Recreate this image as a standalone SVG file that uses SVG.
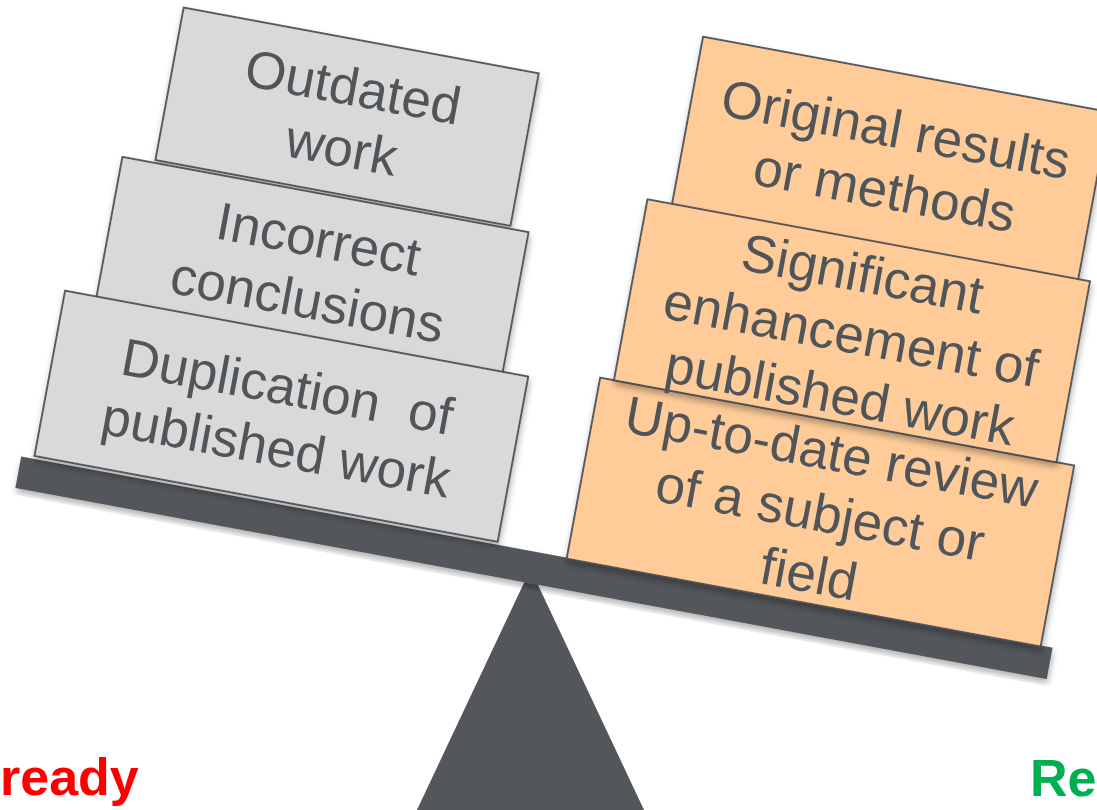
<svg xmlns="http://www.w3.org/2000/svg" width="1097" height="810" viewBox="0 0 1097 810">
<defs>
<filter id="sh" x="-10%" y="-10%" width="120%" height="130%">
<feDropShadow dx="1.5" dy="4" stdDeviation="3" flood-color="#000" flood-opacity="0.3"/>
</filter>
<style>
.grey{fill:#D9D9D9;stroke:#474C51;stroke-width:1.8;filter:url(#sh)}
.orange{fill:#FFCC99;stroke:#474C51;stroke-width:1.8;filter:url(#sh)}
.lbl{font-family:"Liberation Sans",Arial,sans-serif;font-size:53px;fill:#50555A;text-anchor:middle;white-space:pre}
.dark{fill:#53565A}
.big{font-family:"Liberation Sans",Arial,sans-serif;font-size:52px;font-weight:bold}
</style>
</defs>
<rect width="1097" height="810" fill="#FFFFFF"/>
<g id="fulcrum">
<polygon class="dark" points="530.5,569 416,812 645,812"/>
</g>
<g transform="rotate(10.5)">
<g id="beam">
<rect class="dark" x="104" y="445" width="1049" height="32" filter="url(#sh)"/>
</g>
<g id="box-outdated">
<rect class="grey" x="182" y="-26" width="361" height="155"/>
<text class="lbl"><tspan x="363" y="39.5">Outdated</tspan><tspan x="363" y="101.5">work</tspan></text>
</g>
<g id="box-incorrect">
<rect class="grey" x="149" y="132" width="413" height="150"/>
<text class="lbl"><tspan x="357" y="195">Incorrect</tspan><tspan x="357" y="257">conclusions</tspan></text>
</g>
<g id="box-duplication">
<rect class="grey" x="117" y="274" width="471" height="168"/>
<text class="lbl"><tspan x="353" y="346">Duplication  of</tspan><tspan x="353" y="408">published work</tspan></text>
</g>
<g id="box-original">
<rect class="orange" x="698" y="-92" width="413" height="172"/>
<text class="lbl"><tspan x="904.5" y="-18">Original results</tspan><tspan x="904.5" y="44">or methods</tspan></text>
</g>
<g id="box-review">
<rect class="orange" x="659" y="262" width="482" height="184"/>
<text class="lbl"><tspan x="900" y="311">Up-to-date review</tspan><tspan x="900" y="373">of a subject or</tspan><tspan x="900" y="435">field</tspan></text>
</g>
<g id="box-significant">
<rect class="orange" x="673" y="78" width="450" height="184"/>
<text class="lbl"><tspan x="898" y="130">Significant</tspan><tspan x="898" y="192">enhancement of</tspan><tspan x="898" y="254">published work</tspan></text>
</g>
</g>
<g id="label-left">
<text class="big" x="0" y="795" fill="#FF0000">ready</text>
</g>
<g id="label-right">
<text class="big" x="1030" y="796" fill="#00B050">Re</text>
</g>
<g id="connectors"/>
</svg>
